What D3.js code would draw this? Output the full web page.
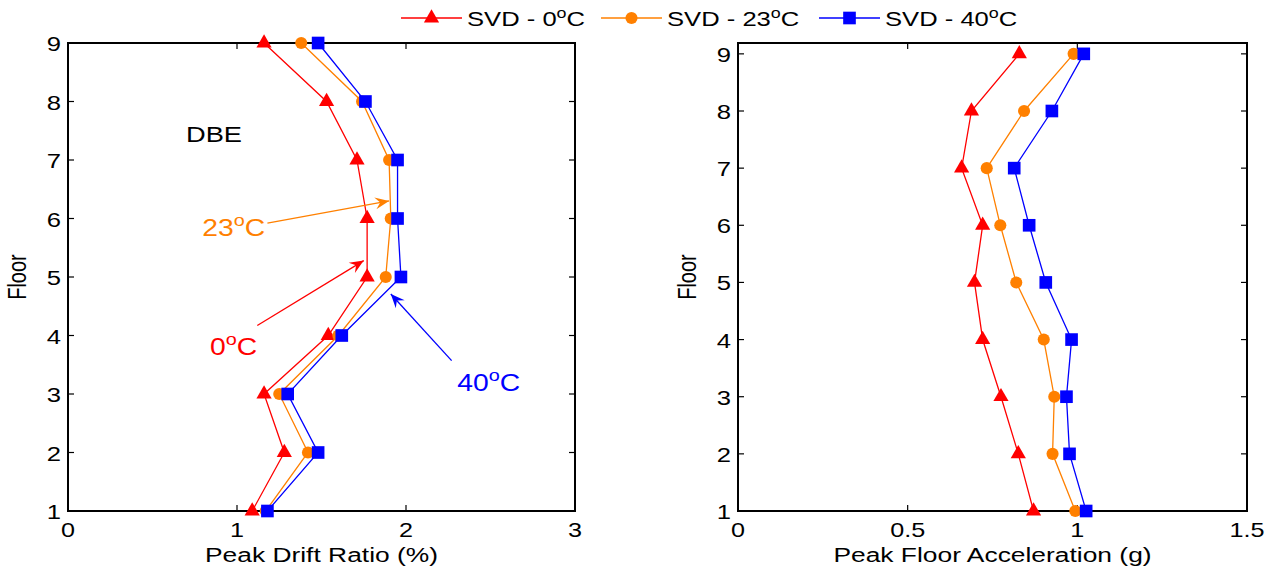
<!DOCTYPE html>
<html lang="en">
<head>
<meta charset="UTF-8">
<title>Peak drift ratio and peak floor acceleration</title>
<script src="https://d3js.org/d3.v7.min.js"></script>
<style>
  body { margin: 0; background: #fff; }
  svg text { font-family: "Liberation Sans", Arial, sans-serif; fill: #000; }
</style>
</head>
<body>
<div id="chart"></div>
<script>
// ---- data ----
const floors = [1, 2, 3, 4, 5, 6, 7, 8, 9];

// Peak drift ratio (%)
const drift0  = [1.09, 1.28, 1.16, 1.54, 1.77, 1.77, 1.71, 1.53, 1.16];
const drift23 = [1.17, 1.42, 1.25, 1.60, 1.88, 1.91, 1.90, 1.74, 1.38];
const drift40 = [1.18, 1.48, 1.30, 1.62, 1.97, 1.95, 1.95, 1.76, 1.48];

// Peak floor acceleration (g)
const acc0  = [0.871, 0.826, 0.775, 0.721, 0.697, 0.721, 0.659, 0.688, 0.829];
const acc23 = [0.994, 0.927, 0.932, 0.901, 0.820, 0.773, 0.733, 0.843, 0.989];
const acc40 = [1.026, 0.977, 0.968, 0.983, 0.907, 0.858, 0.814, 0.925, 1.019];

const seriesNames = ["SVD - 0", "SVD - 23", "SVD - 40"];
const seriesColors = ["#ff0000", "#ff8000", "#0000ff"];
const seriesSymbols = [d3.symbolTriangle, d3.symbolCircle, d3.symbolSquare];
const symbolSizes = [100, 115, 160];

const driftTicks = [0, 1, 2, 3];
const accTicks = [0, 0.5, 1, 1.5];

// annotation arrows in the drift panel: [label, color, labelX, labelY, fromX, fromY, toX, toY]
const driftNotes = [
  ["23", "#ff8000", 0.98, 5.70, 1.18, 5.92, 1.90, 6.30],
  ["0", "#ff0000", 0.98, 3.67, 1.12, 4.17, 1.75, 5.28],
  ["40", "#0000ff", 2.49, 3.05, 2.27, 3.57, 1.91, 4.71]
];

const width = 1276, height = 570;

const svg = d3.select("#chart").append("svg")
  .attr("width", width)
  .attr("height", height);

// text helper; the reference text is stretched horizontally (sx)
function stext(g, x, y, str, size, anchor, sx) {
  return g.append("text")
    .attr("transform", "translate(" + x + "," + y + ") scale(" + sx + ",1)")
    .attr("text-anchor", anchor || "start")
    .attr("font-size", size)
    .text(str);
}

// "NN°C" with raised small o
function degText(g, x, y, num, size, color, anchor, sx) {
  const t = g.append("text")
    .attr("transform", "translate(" + x + "," + y + ") scale(" + sx + ",1)")
    .attr("text-anchor", anchor || "start")
    .attr("font-size", size)
    .style("fill", color);
  t.append("tspan").text(num);
  t.append("tspan").attr("font-size", size * 0.7).attr("dy", -size * 0.42).text("o");
  t.append("tspan").attr("dy", size * 0.42).text("C");
  return t;
}

function panel(opts) {
  const { left, right, top, bottom, xDomain, yDomain, xTicks, xLabel, data } = opts;
  const x = d3.scaleLinear().domain(xDomain).range([left, right]);
  const y = d3.scaleLinear().domain(yDomain).range([bottom, top]);
  const g = svg.append("g");

  // ticks on all four sides, pointing inward
  const tl = 6;
  xTicks.forEach(t => {
    g.append("line").attr("x1", x(t)).attr("x2", x(t)).attr("y1", bottom).attr("y2", bottom - tl)
      .attr("stroke", "#000").attr("stroke-width", 1.2);
    g.append("line").attr("x1", x(t)).attr("x2", x(t)).attr("y1", top).attr("y2", top + tl)
      .attr("stroke", "#000").attr("stroke-width", 1.2);
    stext(g, x(t), bottom + 25.5, String(t), 20, "middle", 1.26);
  });
  floors.forEach(f => {
    g.append("line").attr("x1", left).attr("x2", left + tl).attr("y1", y(f)).attr("y2", y(f))
      .attr("stroke", "#000").attr("stroke-width", 1.2);
    g.append("line").attr("x1", right).attr("x2", right - tl).attr("y1", y(f)).attr("y2", y(f))
      .attr("stroke", "#000").attr("stroke-width", 1.2);
    stext(g, left - 7, y(f) + 8, String(f), 21, "end", 1.22);
  });

  g.append("rect")
    .attr("x", left).attr("y", top)
    .attr("width", right - left).attr("height", bottom - top)
    .attr("fill", "none").attr("stroke", "#000").attr("stroke-width", 2);

  stext(g, (left + right) / 2, bottom + 51, xLabel, 20, "middle", 1.32);
  g.append("text")
    .attr("transform", "translate(" + (left - 42) + "," + ((top + bottom) / 2) + ") rotate(-90) scale(1,1.28)")
    .attr("text-anchor", "middle")
    .attr("font-size", 20)
    .text("Floor");

  const line = d3.line().x(d => x(d[0])).y(d => y(d[1]));
  data.forEach((vals, i) => {
    const pts = vals.map((v, k) => [v, floors[k]]);
    g.append("path").datum(pts)
      .attr("d", line)
      .attr("fill", "none")
      .attr("stroke", seriesColors[i])
      .attr("stroke-width", 1.3);
    g.selectAll(".m" + i).data(pts).enter().append("path")
      .attr("transform", d => "translate(" + x(d[0]) + "," + y(d[1]) + ")")
      .attr("d", d3.symbol().type(seriesSymbols[i]).size(symbolSizes[i]))
      .attr("fill", seriesColors[i]);
  });
  return { g, x, y };
}

const p1 = panel({
  left: 68, right: 575, top: 43, bottom: 511,
  xDomain: [0, 3], yDomain: [1, 9],
  xTicks: driftTicks, xLabel: "Peak Drift Ratio (%)",
  data: [drift0, drift23, drift40]
});

const p2 = panel({
  left: 738, right: 1247, top: 43, bottom: 511,
  xDomain: [0, 1.5], yDomain: [1, 9.19],
  xTicks: accTicks, xLabel: "Peak Floor Acceleration (g)",
  data: [acc0, acc23, acc40]
});

// annotations
stext(p1.g, 214, 142, "DBE", 22, "middle", 1.24);

function arrow(g, x1, y1, x2, y2, color) {
  g.append("line").attr("x1", x1).attr("y1", y1).attr("x2", x2).attr("y2", y2)
    .attr("stroke", color).attr("stroke-width", 1.3);
  const a = Math.atan2(y2 - y1, x2 - x1);
  const L = 14, W = 6, back = 9;
  const p = (d, s) => [x2 - d * Math.cos(a) - s * Math.sin(a), y2 - d * Math.sin(a) + s * Math.cos(a)];
  const head = [[x2, y2], p(L, W), p(back, 0), p(L, -W)];
  g.append("path").attr("d", "M" + head.map(q => q.join(",")).join("L") + "Z")
    .attr("fill", color);
}

driftNotes.forEach(n => {
  const [label, color, lx, ly, fx, fy, tx, ty] = n;
  arrow(p1.g, p1.x(fx), p1.y(fy), p1.x(tx), p1.y(ty), color);
  degText(p1.g, p1.x(lx), p1.y(ly), label, 23, color, "middle", 1.23);
});

// legend
const lg = svg.append("g");
const legX = [401, 601, 819];
seriesNames.forEach((name, i) => {
  const x0 = legX[i], yy = 18;
  lg.append("line").attr("x1", x0).attr("x2", x0 + 61).attr("y1", yy).attr("y2", yy)
    .attr("stroke", seriesColors[i]).attr("stroke-width", 1.3);
  lg.append("path")
    .attr("transform", "translate(" + (x0 + 30.5) + "," + yy + ")")
    .attr("d", d3.symbol().type(seriesSymbols[i]).size(symbolSizes[i]))
    .attr("fill", seriesColors[i]);
  degText(lg, x0 + 66, yy + 8, name, 20, "#000", "start", 1.28);
});
</script>
</body>
</html>
